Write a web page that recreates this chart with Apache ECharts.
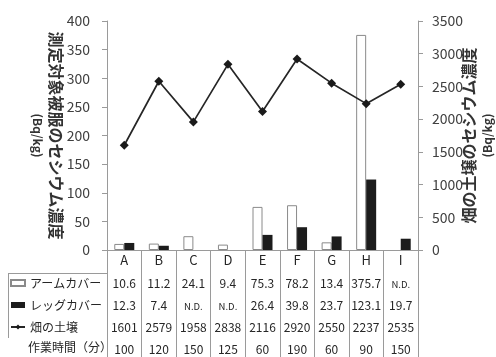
<!DOCTYPE html>
<html>
<head>
<meta charset="utf-8">
<script src="https://cdn.jsdelivr.net/npm/echarts@6/dist/echarts.min.js"></script>
<style>
  html, body { margin: 0; padding: 0; background: #fff; }
  #chart { width: 496px; height: 357px; }
</style>
</head>
<body>
<div id="chart"></div>
<script>
// Sample plots A–I
const categories = ['A', 'B', 'C', 'D', 'E', 'F', 'G', 'H', 'I'];
// Cesium concentration in worn covers (Bq/kg); null = not detected
const armCover = [10.6, 11.2, 24.1, 9.4, 75.3, 78.2, 13.4, 375.7, null];
const legCover = [12.3, 7.4, null, null, 26.4, 39.8, 23.7, 123.1, 19.7];
// Cesium concentration in the field soil (Bq/kg)
const fieldSoil = [1601, 2579, 1958, 2838, 2116, 2920, 2550, 2237, 2535];
// Working time (minutes)
const workMinutes = [100, 120, 150, 125, 60, 190, 60, 90, 150];
// Axis ranges
const leftAxis = { min: 0, max: 400, step: 50 };
const rightAxis = { min: 0, max: 3500, step: 500 };

const FONT = '"Noto Sans CJK JP", "Noto Sans", sans-serif';
const GRID_LINE = '#9a9a9a';
const TEXT = '#262626';

const fmtCover = v => (v == null ? '{nd|N.D.}' : v.toFixed(1));

// One table row drawn as a label-only category axis under the plot
function tableRow(offset, textOf) {
  return {
    type: 'category',
    gridIndex: 0,
    position: 'bottom',
    offset: offset,
    data: categories,
    axisLine: { show: false },
    axisTick: { show: false },
    splitLine: { show: false },
    axisLabel: {
      interval: 0,
      margin: 0,
      verticalAlign: 'middle',
      fontSize: 12,
      fontFamily: FONT,
      color: TEXT,
      formatter: (value, index) => textOf(index),
      rich: { nd: { fontSize: 9.5, fontFamily: FONT, color: TEXT, padding: [3, 0, 0, 0] } }
    }
  };
}

const titleRich = {
  t: { fontSize: 16, fontWeight: 'bold', lineHeight: 18, color: '#333', fontFamily: FONT },
  u: { fontSize: 12, fontWeight: 'bold', lineHeight: 18, color: '#333', fontFamily: FONT }
};

const chart = echarts.init(document.getElementById('chart'), null, { renderer: 'canvas' });

chart.setOption({
  animation: false,
  backgroundColor: '#fff',
  textStyle: { fontFamily: FONT },
  grid: { left: 107, right: 78, top: 21, bottom: 107, outerBoundsMode: 'none' },
  legend: {
    orient: 'vertical',
    left: 10,
    top: 275,
    padding: 0,
    itemGap: 6,
    itemWidth: 14,
    itemHeight: 6,
    selectedMode: false,
    textStyle: { fontSize: 12, lineHeight: 16, color: TEXT, fontFamily: FONT },
    data: [
      { name: 'アームカバー', icon: 'rect' },
      { name: 'レッグカバー', icon: 'rect' },
      { name: '畑の土壌' }
    ]
  },
  xAxis: [
    {
      type: 'category',
      data: categories,
      position: 'bottom',
      axisLine: { show: true, lineStyle: { color: GRID_LINE, width: 1 } },
      axisTick: { show: true, interval: 0, length: 107, lineStyle: { color: GRID_LINE, width: 1 } },
      splitLine: { show: false },
      axisLabel: { interval: 0, margin: 10, verticalAlign: 'middle', fontSize: 13, fontFamily: FONT, color: TEXT }
    },
    tableRow(33, i => fmtCover(armCover[i])),
    tableRow(55, i => fmtCover(legCover[i])),
    tableRow(77, i => String(fieldSoil[i])),
    tableRow(99, i => String(workMinutes[i]))
  ],
  yAxis: [
    {
      type: 'value',
      position: 'left',
      min: leftAxis.min,
      max: leftAxis.max,
      interval: leftAxis.step,
      axisLine: { show: true, lineStyle: { color: GRID_LINE, width: 1 } },
      axisTick: { show: true, length: 5, lineStyle: { color: GRID_LINE } },
      splitLine: { show: false },
      axisLabel: { margin: 17, fontSize: 14, fontFamily: FONT, color: '#404040', formatter: v => String(v) },
      name: '{t|測定対象被服のセシウム濃度}\n{u|(Bq/kg)}',
      nameLocation: 'middle',
      nameRotate: -90,
      nameGap: 42,
      nameMoveOverlap: false,
      nameTextStyle: { rich: titleRich }
    },
    {
      type: 'value',
      position: 'right',
      min: rightAxis.min,
      max: rightAxis.max,
      interval: rightAxis.step,
      axisLine: { show: true, lineStyle: { color: GRID_LINE, width: 1 } },
      axisTick: { show: true, length: 5, lineStyle: { color: GRID_LINE } },
      splitLine: { show: false },
      axisLabel: { margin: 14, fontSize: 14, fontFamily: FONT, color: '#404040', formatter: v => String(v) },
      name: '{t|畑の土壌のセシウム濃度}\n{u|(Bq/kg)}',
      nameLocation: 'middle',
      nameRotate: 90,
      nameGap: 42,
      nameMoveOverlap: false,
      nameTextStyle: { rich: titleRich }
    }
  ],
  series: [
    {
      name: 'アームカバー',
      type: 'bar',
      xAxisIndex: 0,
      yAxisIndex: 0,
      barWidth: 10,
      barGap: '0%',
      itemStyle: { color: '#ffffff', borderColor: '#8a8a8a', borderWidth: 1 },
      data: armCover
    },
    {
      name: 'レッグカバー',
      type: 'bar',
      xAxisIndex: 0,
      yAxisIndex: 0,
      barWidth: 10,
      barGap: '0%',
      itemStyle: { color: '#1c1c1c' },
      data: legCover
    },
    {
      name: '畑の土壌',
      type: 'line',
      xAxisIndex: 0,
      yAxisIndex: 1,
      symbol: 'diamond',
      symbolSize: 9,
      lineStyle: { color: '#262626', width: 1.7 },
      itemStyle: { color: '#1a1a1a' },
      data: fieldSoil
    }
  ],
  graphic: [
    // frame of the row-label column
    { type: 'line', shape: { x1: 8, y1: 273.5, x2: 107, y2: 273.5 }, style: { stroke: GRID_LINE, lineWidth: 1 } },
    { type: 'line', shape: { x1: 8.5, y1: 273, x2: 8.5, y2: 338 }, style: { stroke: GRID_LINE, lineWidth: 1 } },
    {
      type: 'text', left: 28, top: 341,
      style: { text: '作業時間（分）', fontSize: 12, fontFamily: FONT, fill: TEXT }
    }
  ]
});
</script>
</body>
</html>
